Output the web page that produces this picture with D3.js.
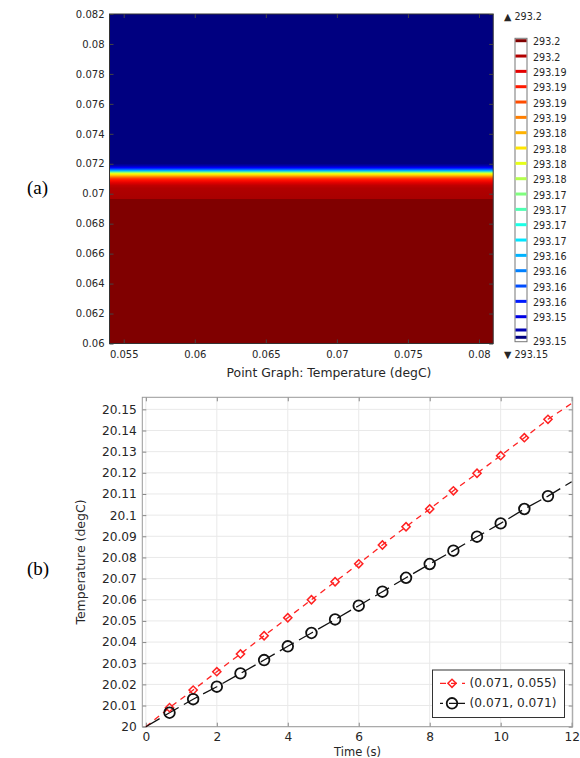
<!DOCTYPE html>
<html>
<head>
<meta charset="utf-8">
<script src="https://cdn.jsdelivr.net/npm/d3@7"></script>
<style>
  body { margin: 0; background: #fff; }
  svg { display: block; font-family: "DejaVu Sans", sans-serif; }
  text { fill: #262626; }
</style>
</head>
<body>
<svg id="fig" width="580" height="758"></svg>
<script>
// ---------- (a) temperature field ----------
const fieldXTicks  = [0.055, 0.06, 0.065, 0.07, 0.075, 0.08];
const fieldXLabels = ["0.055", "0.06", "0.065", "0.07", "0.075", "0.08"];
const fieldYTicks  = [0.06, 0.062, 0.064, 0.066, 0.068, 0.07, 0.072, 0.074, 0.076, 0.078, 0.08, 0.082];
const fieldYLabels = ["0.06", "0.062", "0.064", "0.066", "0.068", "0.07", "0.072", "0.074", "0.076", "0.078", "0.08", "0.082"];

// vertical temperature profile through the field: height (m) -> temperature (K)
const profileHeight = [0.060, 0.06963, 0.06966, 0.07036, 0.07056, 0.07073, 0.0709, 0.07103, 0.07113,
                       0.07123, 0.07133, 0.07143, 0.07153, 0.07164, 0.07174, 0.07186, 0.07202, 0.082];
const profileTemp   = [293.2, 293.2, 293.198, 293.1976, 293.1969, 293.1952, 293.193, 293.1905, 293.1875,
                       293.184, 293.1812, 293.175, 293.1655, 293.16, 293.1562, 293.1525, 293.15, 293.15];

const tempRange = [293.15, 293.2];
const legendLevels = [293.2, 293.1975, 293.195, 293.1925, 293.19, 293.1875, 293.185, 293.1825, 293.18,
                      293.1775, 293.175, 293.1725, 293.17, 293.1675, 293.165, 293.1625, 293.16, 293.1575,
                      293.155, 293.1525, 293.15];
const legendLabels = ["293.2", "293.2", "293.19", "293.19", "293.19", "293.19", "293.18", "293.18", "293.18",
                      "293.18", "293.17", "293.17", "293.17", "293.17", "293.16", "293.16", "293.16", "293.16",
                      "293.15", "", "293.15"];

// ---------- (b) point graph ----------
const timeTicks      = [0, 2, 4, 6, 8, 10, 12];
const timeTickLabels = ["0", "2", "4", "6", "8", "10", "12"];
const tempTicks      = [20, 20.01, 20.02, 20.03, 20.04, 20.05, 20.06, 20.07, 20.08, 20.09, 20.1, 20.11, 20.12, 20.13, 20.14, 20.15];
const tempTickLabels = ["20", "20.01", "20.02", "20.03", "20.04", "20.05", "20.06", "20.07", "20.08", "20.09",
                        "20.1", "20.11", "20.12", "20.13", "20.14", "20.15"];

const markerTime = [0.667, 1.333, 2, 2.667, 3.333, 4, 4.667, 5.333, 6, 6.667, 7.333, 8, 8.667, 9.333, 10, 10.667, 11.333];
const pointA = [20.0090, 20.0173, 20.0260, 20.0344, 20.0430, 20.0515, 20.0600, 20.0685, 20.0770,
                20.0859, 20.0945, 20.1029, 20.1115, 20.1198, 20.1281, 20.1366, 20.1453];   // (0.071, 0.055)
const pointB = [20.0066, 20.0130, 20.0189, 20.0252, 20.0315, 20.0380, 20.0443, 20.0507, 20.0572,
                20.0638, 20.0704, 20.0769, 20.0832, 20.0898, 20.0961, 20.1029, 20.1090];   // (0.071, 0.071)
const lineTime = [0, 0.667, 1.333, 2, 2.667, 3.333, 4, 4.667, 5.333, 6, 6.667, 7.333, 8, 8.667, 9.333, 10, 10.667, 11.333, 12];
const lineA = [20.0, 20.0090, 20.0173, 20.0260, 20.0344, 20.0430, 20.0515, 20.0600, 20.0685, 20.0770,
               20.0859, 20.0945, 20.1029, 20.1115, 20.1198, 20.1281, 20.1366, 20.1453, 20.1528];
const lineB = [20.0, 20.0066, 20.0130, 20.0189, 20.0252, 20.0315, 20.0380, 20.0443, 20.0507, 20.0572,
               20.0638, 20.0704, 20.0769, 20.0832, 20.0898, 20.0961, 20.1029, 20.1090, 20.1158];
const seriesNames = ["(0.071, 0.055)", "(0.071, 0.071)"];

// ---------- shared helpers ----------
const svg = d3.select("#fig");

// rainbow (jet) colour ramp
function jet(t) {
  t = Math.max(0, Math.min(1, t));
  const c = v => Math.round(255 * Math.max(0, Math.min(1, v)));
  return `rgb(${c(1.5 - Math.abs(4 * t - 3))},${c(1.5 - Math.abs(4 * t - 2))},${c(1.5 - Math.abs(4 * t - 1))})`;
}
const tempColor = d3.scaleSequential(jet).domain(tempRange);

function mirrorTicks(g, axis) {
  g.call(axis);
  g.select(".domain").remove();
  g.selectAll(".tick line").attr("stroke", "#444");
}

// ================= (a) =================
const xF = d3.scaleLinear().domain([0.054, 0.081]).range([109.5, 493.2]);
const yF = d3.scaleLinear().domain([0.06, 0.082]).range([343.5, 14]);

const defs = svg.append("defs");
const grad = defs.append("linearGradient")
  .attr("id", "fieldGrad")
  .attr("gradientUnits", "userSpaceOnUse")
  .attr("x1", 0).attr("x2", 0)
  .attr("y1", yF(0.06)).attr("y2", yF(0.082));
const span = yF(0.082) - yF(0.06);
grad.selectAll("stop")
  .data(profileHeight.map((h, i) => ({ h, t: profileTemp[i] })))
  .join("stop")
  .attr("offset", d => (yF(d.h) - yF(0.06)) / span)
  .attr("stop-color", d => tempColor(d.t));

svg.append("rect")
  .attr("x", xF(0.054)).attr("y", yF(0.082))
  .attr("width", xF(0.081) - xF(0.054)).attr("height", yF(0.06) - yF(0.082))
  .attr("fill", "url(#fieldGrad)");

const gFieldAx = svg.append("g").attr("font-size", 10);
gFieldAx.append("g").attr("transform", `translate(${xF.range()[0]},0)`)
  .call(g => mirrorTicks(g, d3.axisLeft(yF).tickValues(fieldYTicks)
    .tickFormat((d, i) => fieldYLabels[i]).tickSizeInner(-4).tickSizeOuter(0).tickPadding(5)));
gFieldAx.append("g").attr("transform", `translate(${xF.range()[1]},0)`)
  .call(g => mirrorTicks(g, d3.axisRight(yF).tickValues(fieldYTicks).tickFormat("").tickSizeInner(-4).tickSizeOuter(0)));
gFieldAx.append("g").attr("transform", `translate(0,${yF.range()[0]})`)
  .call(g => mirrorTicks(g, d3.axisBottom(xF).tickValues(fieldXTicks)
    .tickFormat((d, i) => fieldXLabels[i]).tickSizeInner(-4).tickSizeOuter(0).tickPadding(7)));
gFieldAx.append("g").attr("transform", `translate(0,${yF.range()[1]})`)
  .call(g => mirrorTicks(g, d3.axisTop(xF).tickValues(fieldXTicks).tickFormat("").tickSizeInner(-4).tickSizeOuter(0)));
gFieldAx.selectAll("g").attr("font-family", null).attr("font-size", null);
gFieldAx.selectAll("text").attr("fill", "#333");

svg.append("rect")
  .attr("x", xF.range()[0]).attr("y", yF.range()[1])
  .attr("width", xF.range()[1] - xF.range()[0]).attr("height", yF.range()[0] - yF.range()[1])
  .attr("fill", "none").attr("stroke", "#333").attr("stroke-width", 1);

svg.append("text")
  .attr("x", 329).attr("y", 377)
  .attr("text-anchor", "middle").attr("font-size", 12.4)
  .text("Point Graph: Temperature (degC)");

// colour legend with contour levels
const legY = d3.scaleLinear()
  .domain([293.2, 293.155, 293.1525, 293.15])
  .range([40.7, 316.7, 330, 337.3]);
const cbX0 = 515, cbX1 = 527, cbTop = 38.3, cbBot = 341.7;
svg.append("rect")
  .attr("x", cbX0).attr("y", cbTop).attr("width", cbX1 - cbX0).attr("height", cbBot - cbTop)
  .attr("fill", "#fff").attr("stroke", "#777").attr("stroke-width", 1);
svg.append("g").selectAll("line")
  .data(legendLevels)
  .join("line")
  .attr("x1", cbX0 + 0.5).attr("x2", cbX1 - 0.5)
  .attr("y1", d => legY(d)).attr("y2", d => legY(d))
  .attr("stroke", d => tempColor(d)).attr("stroke-width", 3);
svg.append("g").attr("font-size", 9.6).selectAll("text")
  .data(legendLevels)
  .join("text")
  .attr("x", 533)
  .attr("y", (d, i) => i === legendLevels.length - 1 ? cbBot : legY(d) + 1)
  .attr("dominant-baseline", "central")
  .text((d, i) => legendLabels[i]);
svg.append("text").attr("x", 504).attr("y", 16.5).attr("font-size", 9.6)
  .attr("dominant-baseline", "central").text(`▲ ${d3.format(".1f")(tempRange[1])}`);
svg.append("text").attr("x", 504).attr("y", 354).attr("font-size", 9.6)
  .attr("dominant-baseline", "central").text(`▼ ${d3.format(".2f")(tempRange[0])}`);

svg.append("text").attr("x", 27).attr("y", 194)
  .style("font-family", "'Liberation Serif', 'Times New Roman', serif").attr("font-size", 19)
  .style("fill", "#000")
  .text("(a)");

// ================= (b) =================
const xT = d3.scaleLinear().domain([-0.1, 12.03]).range([142.3, 572.7]);
const yT = d3.scaleLinear().domain([20, 20.1557]).range([726.7, 397.3]);
const [px0, px1] = xT.range();
const [py0, py1] = yT.range();

const gGrid = svg.append("g").attr("stroke", "#e9e9e9").attr("stroke-width", 1);
gGrid.selectAll(".vx").data(timeTicks).join("line")
  .attr("x1", d => xT(d)).attr("x2", d => xT(d)).attr("y1", py1).attr("y2", py0);
gGrid.selectAll(".hy").data(tempTicks).join("line")
  .attr("x1", px0).attr("x2", px1).attr("y1", d => yT(d)).attr("y2", d => yT(d));

const gTAx = svg.append("g").attr("font-size", 12.2);
gTAx.append("g").attr("transform", `translate(${px0},0)`)
  .call(g => mirrorTicks(g, d3.axisLeft(yT).tickValues(tempTicks)
    .tickFormat((d, i) => tempTickLabels[i]).tickSizeInner(-4).tickSizeOuter(0).tickPadding(5.5)));
gTAx.append("g").attr("transform", `translate(${px1},0)`)
  .call(g => mirrorTicks(g, d3.axisRight(yT).tickValues(tempTicks).tickFormat("").tickSizeInner(-4).tickSizeOuter(0)));
gTAx.append("g").attr("transform", `translate(0,${py0})`)
  .call(g => mirrorTicks(g, d3.axisBottom(xT).tickValues(timeTicks)
    .tickFormat((d, i) => timeTickLabels[i]).tickSizeInner(-4).tickSizeOuter(0).tickPadding(6)));
gTAx.append("g").attr("transform", `translate(0,${py1})`)
  .call(g => mirrorTicks(g, d3.axisTop(xT).tickValues(timeTicks).tickFormat("").tickSizeInner(-4).tickSizeOuter(0)));
gTAx.selectAll("g").attr("font-family", null).attr("font-size", null);
gTAx.selectAll("text").attr("fill", "#262626");
gTAx.selectAll(".tick line").attr("stroke", "#888");

svg.append("rect")
  .attr("x", px0).attr("y", py1).attr("width", px1 - px0).attr("height", py0 - py1)
  .attr("fill", "none").attr("stroke", "#999").attr("stroke-width", 1);

const lineGen = d3.line().x(d => xT(d[0])).y(d => yT(d[1]));
const styles = [
  { color: "#ff2222", dash: "6,5", line: lineA, pts: pointA },
  { color: "#111", dash: "16,6", line: lineB, pts: pointB }
];
const plot = svg.append("g");
styles.forEach(s => {
  plot.append("path")
    .attr("d", lineGen(lineTime.map((t, i) => [t, s.line[i]])))
    .attr("fill", "none").attr("stroke", s.color).attr("stroke-width", 1.3)
    .attr("stroke-dasharray", s.dash);
});
// diamonds
plot.append("g").selectAll("path")
  .data(markerTime.map((t, i) => [t, pointA[i]]))
  .join("path")
  .attr("transform", d => `translate(${xT(d[0])},${yT(d[1])}) rotate(45)`)
  .attr("d", "M-2.9,-2.9H2.9V2.9H-2.9Z")
  .attr("fill", "none").attr("stroke", styles[0].color).attr("stroke-width", 1.5);
// circles
plot.append("g").selectAll("circle")
  .data(markerTime.map((t, i) => [t, pointB[i]]))
  .join("circle")
  .attr("cx", d => xT(d[0])).attr("cy", d => yT(d[1])).attr("r", 5.3)
  .attr("fill", "none").attr("stroke", styles[1].color).attr("stroke-width", 1.8);

// legend
const leg = svg.append("g");
leg.append("rect").attr("x", 432.5).attr("y", 670).attr("width", 132).attr("height", 47.5)
  .attr("fill", "#fff").attr("stroke", "#333").attr("stroke-width", 1);
const rowY = [683.3, 703.3];
leg.append("line").attr("x1", 440).attr("x2", 465).attr("y1", rowY[0]).attr("y2", rowY[0])
  .attr("stroke", styles[0].color).attr("stroke-width", 1.3).attr("stroke-dasharray", styles[0].dash);
leg.append("path").attr("transform", `translate(452,${rowY[0]}) rotate(45)`)
  .attr("d", "M-2.9,-2.9H2.9V2.9H-2.9Z").attr("fill", "none")
  .attr("stroke", styles[0].color).attr("stroke-width", 1.5);
leg.append("line").attr("x1", 440).attr("x2", 465).attr("y1", rowY[1]).attr("y2", rowY[1])
  .attr("stroke", styles[1].color).attr("stroke-width", 1.3)
  .attr("stroke-dasharray", styles[1].dash).attr("stroke-dashoffset", 13);
leg.append("circle").attr("cx", 452).attr("cy", rowY[1]).attr("r", 5.3)
  .attr("fill", "none").attr("stroke", styles[1].color).attr("stroke-width", 1.8);
leg.selectAll("text.lbl").data(seriesNames).join("text")
  .attr("x", 469.5).attr("y", (d, i) => rowY[i]).attr("dominant-baseline", "central")
  .attr("font-size", 12.2).text(d => d);

// axis titles
svg.append("text").attr("x", (px0 + px1) / 2).attr("y", 755.5)
  .attr("text-anchor", "middle").attr("font-size", 11.5).text("Time (s)");
svg.append("text").attr("transform", `translate(85,${(py0 + py1) / 2}) rotate(-90)`)
  .attr("text-anchor", "middle").attr("font-size", 12.5).text("Temperature (degC)");

svg.append("text").attr("x", 27).attr("y", 575)
  .style("font-family", "'Liberation Serif', 'Times New Roman', serif").attr("font-size", 19)
  .style("fill", "#000")
  .text("(b)");
</script>
</body>
</html>
